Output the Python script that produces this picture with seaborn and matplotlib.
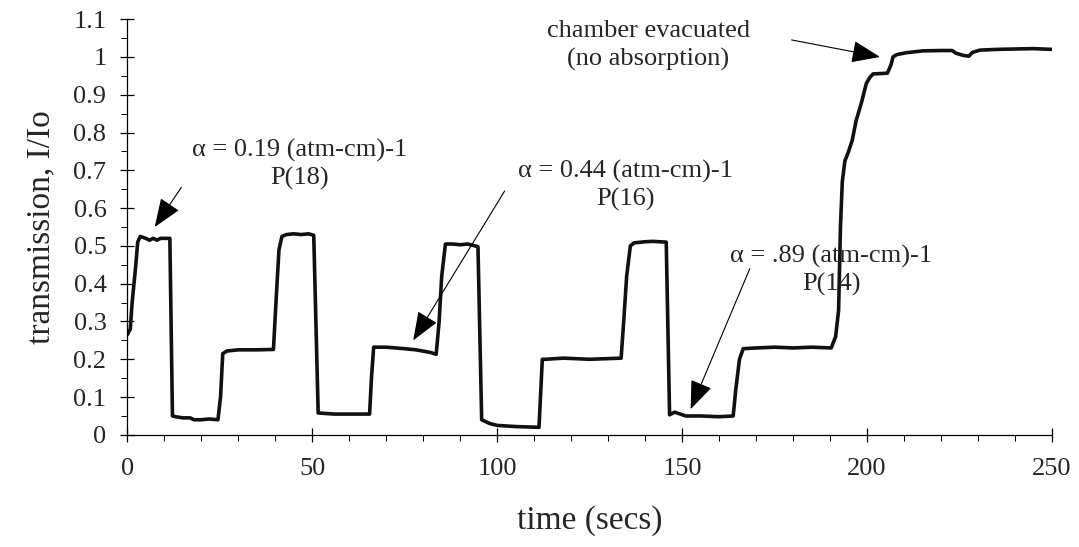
import numpy as np
import matplotlib
matplotlib.use("Agg")
import matplotlib.pyplot as plt
import seaborn as sns

# ============================================================================
# DATA
# ============================================================================

time_s = [
    0, 0.8, 1.3, 1.8, 2.3, 2.8, 3.5, 5, 6, 7, 8, 9, 10, 11.5,
    12.2, 13, 15, 17, 18, 20, 22, 24.5,
    25.2, 25.8, 27, 30, 35, 39.5,
    40.3, 41, 41.8, 43, 45, 47, 49, 50.4,
    51.6, 53, 56, 60, 65.5,
    66, 66.6, 70, 75, 78, 82, 83.5,
    84.3, 85, 86, 88, 90, 92, 94.8,
    95.8, 98, 100, 105, 111.3,
    112.2, 113, 118, 125, 133.5,
    134.2, 135, 136, 137, 140, 142, 145.7,
    146.6, 148, 149.5, 151, 155, 160, 163.8,
    164.5, 165.5, 166.5, 170, 175, 180, 185, 190.3,
    191.5, 192.3, 192.8, 193.3, 194, 195, 196, 197, 198.5, 199.8,
    200.7, 201.6, 205.5, 206.5, 207, 208, 210.5, 215, 220,
    223, 224, 226, 227.5, 228.5, 230.5, 235, 240, 245, 250,
]

transmission = [
    0.265, 0.28, 0.35, 0.40, 0.45, 0.51, 0.525, 0.52, 0.515, 0.52, 0.515, 0.52, 0.52, 0.52,
    0.05, 0.048, 0.045, 0.045, 0.04, 0.04, 0.042, 0.04,
    0.1, 0.215, 0.222, 0.225, 0.225, 0.226,
    0.37, 0.49, 0.525, 0.53, 0.532, 0.53, 0.532, 0.528,
    0.058, 0.057, 0.055, 0.055, 0.055,
    0.15, 0.232, 0.232, 0.228, 0.225, 0.218, 0.213,
    0.3, 0.42, 0.505, 0.505, 0.503, 0.505, 0.498,
    0.04, 0.03, 0.025, 0.022, 0.02,
    0.2, 0.2, 0.203, 0.2, 0.203,
    0.3, 0.42, 0.5, 0.508, 0.511, 0.512, 0.51,
    0.053, 0.06, 0.055, 0.05, 0.05, 0.048, 0.05,
    0.12, 0.2, 0.228, 0.23, 0.232, 0.23, 0.232, 0.23,
    0.26, 0.33, 0.55, 0.67, 0.725, 0.75, 0.78, 0.83, 0.88, 0.93,
    0.945, 0.955, 0.957, 0.98, 1.0, 1.006, 1.011, 1.016, 1.017,
    1.017, 1.01, 1.004, 1.002, 1.012, 1.018, 1.02, 1.021, 1.022, 1.02,
]

x_ticks = [0, 50, 100, 150, 200, 250]
y_ticks = [0, 0.1, 0.2, 0.3, 0.4, 0.5, 0.6, 0.7, 0.8, 0.9, 1.0, 1.1]
y_tick_labels = ["0", "0.1", "0.2", "0.3", "0.4", "0.5", "0.6",
                 "0.7", "0.8", "0.9", "1", "1.1"]

# annotations: text, text position, arrow tail, arrow tip
notes = [
    ("\u03b1 = 0.19 (atm-cm)-1\nP(18)", (46.6, 0.715), (14.6, 0.655), (7.4, 0.55)),
    ("\u03b1 = 0.44 (atm-cm)-1\nP(16)", (134.8, 0.66), (102.0, 0.645), (77.3, 0.25)),
    ("\u03b1 = .89 (atm-cm)-1\nP(14)", (190.3, 0.435), (168.3, 0.44), (152.3, 0.068)),
    ("chamber evacuated\n(no absorption)", (140.8, 1.03), (179.6, 1.045), (203.5, 1.0)),
]

# ============================================================================
# PLOT
# ============================================================================

sns.set_theme(style="ticks")
plt.rcParams["font.family"] = ["Liberation Serif", "DejaVu Serif"]

fig, ax = plt.subplots(figsize=(10.79, 5.47), dpi=100)
fig.subplots_adjust(left=0.118, right=0.975, bottom=0.205, top=0.965)

sns.lineplot(
    x=time_s,
    y=transmission,
    sort=False,
    estimator=None,
    color="#111111",
    linewidth=2.6,
    ax=ax
)

for text, text_xy, tail_xy, tip_xy in notes:
    ax.text(
        text_xy[0], text_xy[1], text,
        ha="center", va="center",
        fontsize=19, linespacing=1.3
    )
    ax.annotate(
        "",
        xy=tip_xy,
        xytext=tail_xy,
        arrowprops=dict(
            arrowstyle="-|>,head_length=0.9,head_width=0.35",
            mutation_scale=20,
            lw=0.8,
            color="black",
            shrinkA=0,
            shrinkB=0
        )
    )

ax.set_xlim(0, 250)
ax.set_ylim(0, 1.1)
ax.set_xticks(x_ticks)
ax.set_xticks(np.arange(0, 251, 10), minor=True)
ax.set_yticks(y_ticks)
ax.set_yticklabels(y_tick_labels)
ax.set_yticks(np.arange(0, 1.101, 0.05), minor=True)

ax.tick_params(axis="both", which="major", direction="inout",
               length=10, width=0.9, color="black", labelsize=19)
ax.tick_params(axis="x", which="major", pad=12)
ax.tick_params(axis="y", which="major", pad=10)
ax.tick_params(axis="both", which="minor", direction="out",
               length=4, width=0.7, color="black")

for side in ["top", "right"]:
    ax.spines[side].set_visible(False)
for side in ["left", "bottom"]:
    ax.spines[side].set_color("black")
    ax.spines[side].set_linewidth(0.9)

ax.set_xlabel("time (secs)", fontsize=24, labelpad=18)
ax.set_ylabel("transmission, I/Io", fontsize=24, labelpad=12)

fig.savefig("out.png", dpi=100, facecolor="white")
